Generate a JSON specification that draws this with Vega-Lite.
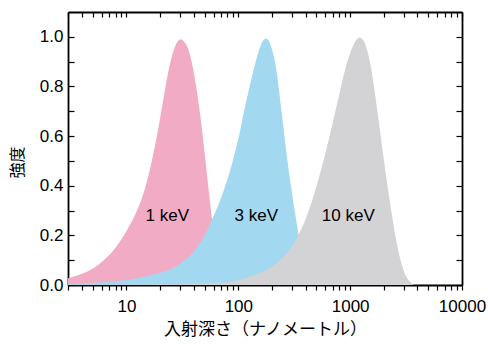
{
  "$schema": "https://vega.github.io/schema/vega-lite/v6.json",
  "width": 394,
  "height": 273,
  "autosize": {"type": "none"},
  "padding": {"left": 68, "top": 12, "right": 26, "bottom": 59},
  "background": "white",
  "config": {
    "view": {"stroke": null},
    "axis": {"grid": false, "ticks": true, "domainColor": "black", "domainWidth": 1.8, "tickColor": "black", "tickWidth": 1.2, "labelColor": "black", "titleColor": "black", "zindex": 1, "labelOverlap": false, "labelFlush": false, "labelBound": false}
  },
  "datasets": {
    "k1": [
      {"x": 3, "y": 0.027}, {"x": 3.84, "y": 0.042}, {"x": 4.83, "y": 0.062}, {"x": 6.08, "y": 0.095},
      {"x": 7.66, "y": 0.14}, {"x": 9.64, "y": 0.205}, {"x": 12.13, "y": 0.29}, {"x": 13.61, "y": 0.345},
      {"x": 15.28, "y": 0.42}, {"x": 17.14, "y": 0.515}, {"x": 19.23, "y": 0.63}, {"x": 21.58, "y": 0.76},
      {"x": 24.21, "y": 0.88}, {"x": 27.16, "y": 0.96}, {"x": 30.48, "y": 0.99}, {"x": 32.7, "y": 0.98},
      {"x": 34.5, "y": 0.966}, {"x": 37.1, "y": 0.925}, {"x": 39.6, "y": 0.866}, {"x": 45.5, "y": 0.691},
      {"x": 50.4, "y": 0.517}, {"x": 53.9, "y": 0.396}, {"x": 57.8, "y": 0.275}, {"x": 62, "y": 0.16},
      {"x": 66, "y": 0.08}, {"x": 70, "y": 0.03}, {"x": 75, "y": 0}
    ],
    "k3": [
      {"x": 3, "y": 0.003}, {"x": 5.6, "y": 0.01}, {"x": 8, "y": 0.015}, {"x": 11.9, "y": 0.025},
      {"x": 16, "y": 0.038}, {"x": 23.7, "y": 0.06}, {"x": 32, "y": 0.095}, {"x": 41, "y": 0.141},
      {"x": 50, "y": 0.2}, {"x": 57.8, "y": 0.262}, {"x": 66, "y": 0.32}, {"x": 76, "y": 0.396},
      {"x": 85, "y": 0.465}, {"x": 93.4, "y": 0.535}, {"x": 104, "y": 0.624}, {"x": 115, "y": 0.72},
      {"x": 128, "y": 0.812}, {"x": 145, "y": 0.91}, {"x": 160, "y": 0.97}, {"x": 176.7, "y": 0.993},
      {"x": 195, "y": 0.965}, {"x": 214, "y": 0.893}, {"x": 245, "y": 0.691}, {"x": 272, "y": 0.517},
      {"x": 301, "y": 0.375}, {"x": 334, "y": 0.245}, {"x": 360, "y": 0.155}, {"x": 390, "y": 0.075},
      {"x": 420, "y": 0.025}, {"x": 450, "y": 0.003}, {"x": 479, "y": 0}
    ],
    "k10": [
      {"x": 3, "y": 0}, {"x": 20, "y": 0.002}, {"x": 50, "y": 0.006}, {"x": 85, "y": 0.013},
      {"x": 128, "y": 0.034}, {"x": 180, "y": 0.062}, {"x": 237, "y": 0.1}, {"x": 290, "y": 0.144},
      {"x": 334, "y": 0.19}, {"x": 411, "y": 0.28}, {"x": 460, "y": 0.345}, {"x": 505, "y": 0.405},
      {"x": 560, "y": 0.478}, {"x": 619, "y": 0.555}, {"x": 690, "y": 0.643}, {"x": 760, "y": 0.725},
      {"x": 850, "y": 0.82}, {"x": 934, "y": 0.893}, {"x": 1050, "y": 0.958}, {"x": 1211, "y": 0.997},
      {"x": 1350, "y": 0.975}, {"x": 1510, "y": 0.893}, {"x": 1620, "y": 0.81}, {"x": 1731, "y": 0.718},
      {"x": 1985, "y": 0.517}, {"x": 2275, "y": 0.329}, {"x": 2612, "y": 0.168}, {"x": 2994, "y": 0.06},
      {"x": 3200, "y": 0.03}, {"x": 3435, "y": 0.013}, {"x": 3700, "y": 0}
    ],
    "labels": [
      {"label": "1 keV", "x": 23.2, "y": 0.28},
      {"label": "3 keV", "x": 144.6, "y": 0.28},
      {"label": "10 keV", "x": 963, "y": 0.28}
    ]
  },
  "layer": [
    {
      "data": {"name": "k1"},
      "mark": {"type": "area", "color": "#F2ABC5", "interpolate": "monotone", "clip": true},
      "encoding": {
        "x": {
          "field": "x", "type": "quantitative",
          "scale": {"type": "log", "domain": [3, 10000], "nice": false},
          "axis": {
            "orient": "bottom",
            "values": [3,4,5,6,7,8,9,10,20,30,40,50,60,70,80,90,100,200,300,400,500,600,700,800,900,1000,2000,3000,4000,5000,6000,7000,8000,9000,10000],
            "labelExpr": "indexof([10,100,1000,10000], datum.value) >= 0 ? format(datum.value, 'd') : ''",
            "labelFont": "Liberation Sans", "labelFontSize": 17, "labelPadding": 8,
            "tickSize": 5, "domainColor": "black",
            "encode": {"ticks": {"update": {"y2": {"signal": "indexof([10,100,1000,10000], datum.value) >= 0 ? 5 : 2.5"}}}},
            "title": "入射深さ（ナノメートル）", "titleFont": "Noto Sans CJK JP", "titleFontSize": 17, "titleFontWeight": "normal",
            "titleBaseline": "middle", "titleY": 44
          }
        },
        "y": {
          "field": "y", "type": "quantitative",
          "scale": {"domain": [0, 1.1], "nice": false},
          "axis": {
            "orient": "left",
            "values": [0,0.1,0.2,0.3,0.4,0.5,0.6,0.7,0.8,0.9,1.0],
            "labelExpr": "round(datum.value*10) % 2 == 0 ? format(datum.value, '.1f') : ''",
            "labelFont": "Liberation Sans", "labelFontSize": 17, "labelPadding": 11,
            "tickSize": -6, "domainColor": "black",
            "encode": {"ticks": {"update": {"x2": {"signal": "round(datum.value*10) % 2 == 0 ? 6 : 3"}}}},
            "title": "強度", "titleFont": "Noto Sans CJK JP", "titleFontSize": 16, "titleFontWeight": "normal",
            "titleAngle": -90, "titleAlign": "center", "titleBaseline": "middle", "titleX": -51, "titleY": 150
          }
        }
      }
    },
    {
      "data": {"name": "k3"},
      "mark": {"type": "area", "color": "#A3D8F1", "interpolate": "monotone", "clip": true},
      "encoding": {
        "x": {"field": "x", "type": "quantitative", "axis": null},
        "y": {"field": "y", "type": "quantitative", "axis": null}
      }
    },
    {
      "data": {"name": "k10"},
      "mark": {"type": "area", "color": "#D3D3D5", "interpolate": "monotone", "clip": true},
      "encoding": {
        "x": {"field": "x", "type": "quantitative", "axis": null},
        "y": {"field": "y", "type": "quantitative", "axis": null}
      }
    },
    {
      "data": {"name": "labels"},
      "mark": {"type": "text", "font": "Liberation Sans", "fontSize": 17, "color": "black", "align": "center", "baseline": "middle"},
      "encoding": {
        "text": {"field": "label"},
        "x": {
          "field": "x", "type": "quantitative",
          "axis": {
            "orient": "top", "labels": false, "title": null, "tickSize": -5, "domainColor": "black",
            "values": [3,4,5,6,7,8,9,10,20,30,40,50,60,70,80,90,100,200,300,400,500,600,700,800,900,1000,2000,3000,4000,5000,6000,7000,8000,9000,10000],
            "encode": {"ticks": {"update": {"y2": {"signal": "indexof([10,100,1000,10000], datum.value) >= 0 ? 5 : 2.5"}}}}
          }
        },
        "y": {
          "field": "y", "type": "quantitative",
          "axis": {
            "orient": "right", "labels": false, "title": null, "tickSize": -6, "domainColor": "black",
            "values": [0,0.1,0.2,0.3,0.4,0.5,0.6,0.7,0.8,0.9,1.0],
            "encode": {"ticks": {"update": {"x2": {"signal": "round(datum.value*10) % 2 == 0 ? -6 : -3"}}}}
          }
        }
      }
    }
  ],
  "resolve": {"axis": {"x": "independent", "y": "independent"}}
}
